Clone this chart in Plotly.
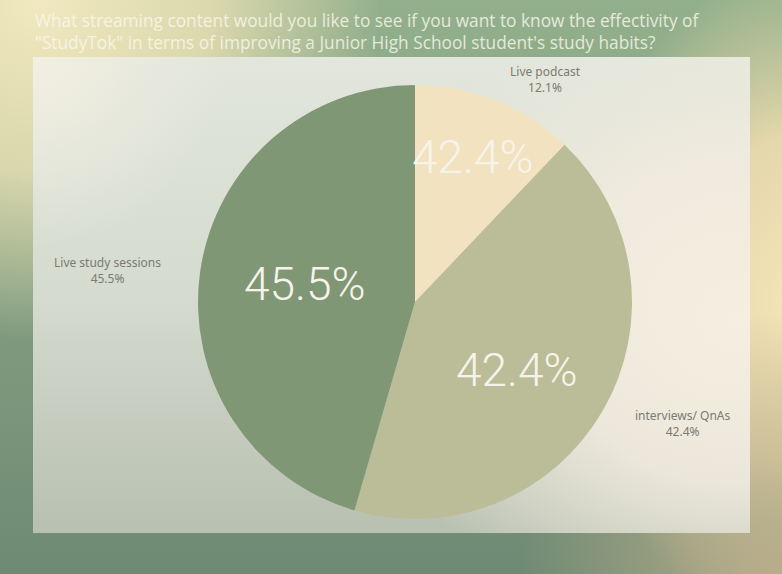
import base64
import math
import plotly.graph_objects as go

# ---- data ----
categories = ["Live podcast", "interviews/ QnAs", "Live study sessions"]
values = [12.1, 42.4, 45.5]
inner_labels = ["42.4%", "42.4%", "45.5%"]   # as printed inside the slices in the original
outer_labels = ["Live podcast<br>12.1%", "interviews/ QnAs<br>42.4%", "Live study sessions<br>45.5%"]
title_text = ("What streaming content would you like to see if you want to know the effectivity of<br>"
              "\"StudyTok\" in terms of improving a Junior High School student's study habits?")

# ---- style ----
W, H = 782, 574
colors = ["#F2E2BF", "#BBBC98", "#7F9775"]
cx, cy, R = 415, 302, 217          # pie centre / radius in px
inner_r_frac = [0.72, 0.54, 0.51]  # radial placement of inner labels
inner_yshift = [0, -10, 2]
outer_pos = [(545, 80), (683, 423), (107, 270)]

svg = f'''<svg xmlns="http://www.w3.org/2000/svg" width="{W}" height="{H}" viewBox="0 0 {W} {H}">
<defs>
<linearGradient id="bg" x1="0" y1="0" x2="0" y2="1">
 <stop offset="0" stop-color="#93B08C"/>
 <stop offset="1" stop-color="#6F8A74"/>
</linearGradient>
<radialGradient id="tl" cx="40" cy="0" r="340" gradientUnits="userSpaceOnUse">
 <stop offset="0" stop-color="#F1E8C0" stop-opacity="1"/>
 <stop offset="0.5" stop-color="#E8E0B4" stop-opacity="0.85"/>
 <stop offset="1" stop-color="#E8E0B4" stop-opacity="0"/>
</radialGradient>
<radialGradient id="rt" cx="800" cy="300" r="1" gradientTransform="translate(800 300) scale(230 330) translate(-800 -300)" gradientUnits="userSpaceOnUse">
 <stop offset="0" stop-color="#F5E5B8" stop-opacity="1"/>
 <stop offset="0.5" stop-color="#EEDDAF" stop-opacity="0.9"/>
 <stop offset="1" stop-color="#EEDDAF" stop-opacity="0"/>
</radialGradient>
<radialGradient id="br" cx="782" cy="574" r="260" gradientUnits="userSpaceOnUse">
 <stop offset="0" stop-color="#B9AD8A" stop-opacity="1"/>
 <stop offset="1" stop-color="#B9AD8A" stop-opacity="0"/>
</radialGradient>
<linearGradient id="pn" x1="0" y1="0" x2="0" y2="1">
 <stop offset="0" stop-color="#E2E6DC"/>
 <stop offset="0.5" stop-color="#D5DBCF"/>
 <stop offset="1" stop-color="#B8C0B1"/>
</linearGradient>
<radialGradient id="pw" cx="740" cy="320" r="1" gradientTransform="translate(740 320) scale(380 330) translate(-740 -320)" gradientUnits="userSpaceOnUse">
 <stop offset="0" stop-color="#F6EFE1" stop-opacity="1"/>
 <stop offset="0.5" stop-color="#F2ECDF" stop-opacity="0.85"/>
 <stop offset="1" stop-color="#F2ECDF" stop-opacity="0"/>
</radialGradient>
<radialGradient id="ptl" cx="33" cy="57" r="190" gradientUnits="userSpaceOnUse">
 <stop offset="0" stop-color="#F2EFE1" stop-opacity="1"/>
 <stop offset="1" stop-color="#F2EFE1" stop-opacity="0"/>
</radialGradient>
</defs>
<rect x="0" y="0" width="{W}" height="{H}" fill="url(#bg)"/>
<rect x="0" y="0" width="{W}" height="{H}" fill="url(#tl)"/>
<rect x="0" y="0" width="{W}" height="{H}" fill="url(#rt)"/>
<rect x="0" y="0" width="{W}" height="{H}" fill="url(#br)"/>
<rect x="33" y="57" width="717" height="476" fill="url(#pn)"/>
<rect x="33" y="57" width="717" height="476" fill="url(#ptl)"/>
<rect x="33" y="57" width="717" height="476" fill="url(#pw)"/>
</svg>'''
svg_uri = "data:image/svg+xml;base64," + base64.b64encode(svg.encode()).decode()

fig = go.Figure(go.Pie(
    labels=categories,
    values=values,
    sort=False,
    direction="clockwise",
    rotation=0,
    marker=dict(colors=colors, line=dict(width=0)),
    textinfo="none",
    hoverinfo="label+percent",
    showlegend=False,
    domain=dict(x=[(cx - R) / W, (cx + R) / W],
                y=[(H - cy - R) / H, (H - cy + R) / H]),
))

annotations = []
# inner labels, placed at each slice's mid-angle computed from the data
total = sum(values)
cum = 0.0
for v, txt, fr, ys in zip(values, inner_labels, inner_r_frac, inner_yshift):
    mid = (cum + v / 2) / total * 2 * math.pi
    cum += v
    px = cx + fr * R * math.sin(mid)
    py = cy - fr * R * math.cos(mid)
    annotations.append(dict(x=px / W, y=1 - py / H, xref="paper", yref="paper",
                            text=txt, showarrow=False, xanchor="center", yanchor="middle",
                            yshift=ys,
                            font=dict(family="Roboto", size=46, weight=300, color="#F6F4EA")))
# outer labels
for (ox, oy), txt in zip(outer_pos, outer_labels):
    annotations.append(dict(x=ox / W, y=1 - oy / H, xref="paper", yref="paper",
                            text=txt, showarrow=False, xanchor="center", yanchor="middle",
                            align="center",
                            font=dict(family="Noto Sans", size=12, color="#7A7B72")))
# title
annotations.append(dict(x=33 / W, y=1 - 7 / H, xref="paper", yref="paper",
                        text=title_text, showarrow=False, xanchor="left", yanchor="top",
                        align="left",
                        font=dict(family="Open Sans", size=17.3, color="rgba(250,248,236,0.82)")))

fig.update_layout(
    width=W, height=H,
    margin=dict(l=0, r=0, t=0, b=0),
    paper_bgcolor="rgba(0,0,0,0)",
    plot_bgcolor="rgba(0,0,0,0)",
    images=[dict(source=svg_uri, xref="paper", yref="paper", x=0, y=1,
                 sizex=1, sizey=1, xanchor="left", yanchor="top",
                 sizing="stretch", layer="below")],
    annotations=annotations,
)

fig.write_html("out.html")
